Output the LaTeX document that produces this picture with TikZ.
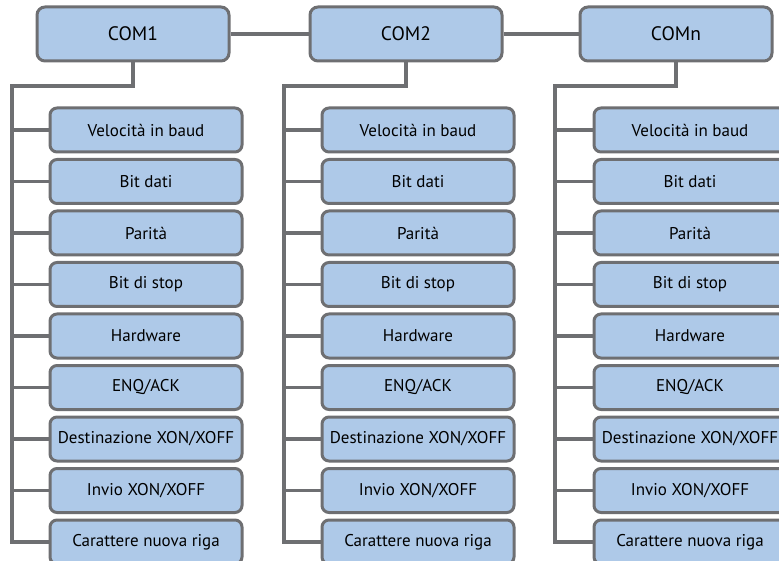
\documentclass[tikz,border=0pt]{standalone}
\usepackage{fontspec}
\setmainfont{PT Sans}
\definecolor{boxfill}{RGB}{174,201,232}
\definecolor{boxline}{RGB}{110,111,114}
\begin{document}
\begin{tikzpicture}[x=1pt,y=-1pt,
  topbox/.style={draw=boxline,line width=3pt,fill=boxfill,rounded corners=8pt,minimum width=192pt,minimum height=54pt,inner sep=0pt,font=\fontsize{19.5}{22}\selectfont},
  subbox/.style={draw=boxline,line width=3pt,fill=boxfill,rounded corners=7pt,minimum width=192pt,minimum height=44pt,inner sep=0pt,font=\fontsize{17}{20}\selectfont},
  conn/.style={draw=boxline,line width=3.2pt}]
\useasboundingbox (0,0) rectangle (779,561);
\clip (0,0) rectangle (779,561);
\node[topbox] (t1) at (133,34) {COM1};
\node[topbox] (t2) at (406,34) {COM2};
\node[topbox] (t3) at (676,34) {COMn};
\draw[conn] (t1.east) -- (t2.west);
\draw[conn] (t2.east) -- (t3.west);
\foreach \c/\bx/\cx in {1/12/146, 2/284/418, 3/555/690}{
  \coordinate (b\c) at (\bx,86);
  \foreach \i/\t in {1/Velocità in baud,2/Bit dati,3/Parità,4/Bit di stop,5/Hardware,6/ENQ\slash ACK,7/Destinazione XON\slash XOFF,8/Invio XON\slash XOFF,9/Carattere nuova riga}{
    \node[subbox] (c\c-\i) at (\cx,{130+51.5*(\i-1)}) {\t};
  }
  \draw[conn] (t\c.south) |- (b\c) |- (c\c-9.west);
  \foreach \i in {1,...,8}{
    \draw[conn] (b\c |- c\c-\i.west) -- (c\c-\i.west);
  }
}
\end{tikzpicture}
\end{document}
